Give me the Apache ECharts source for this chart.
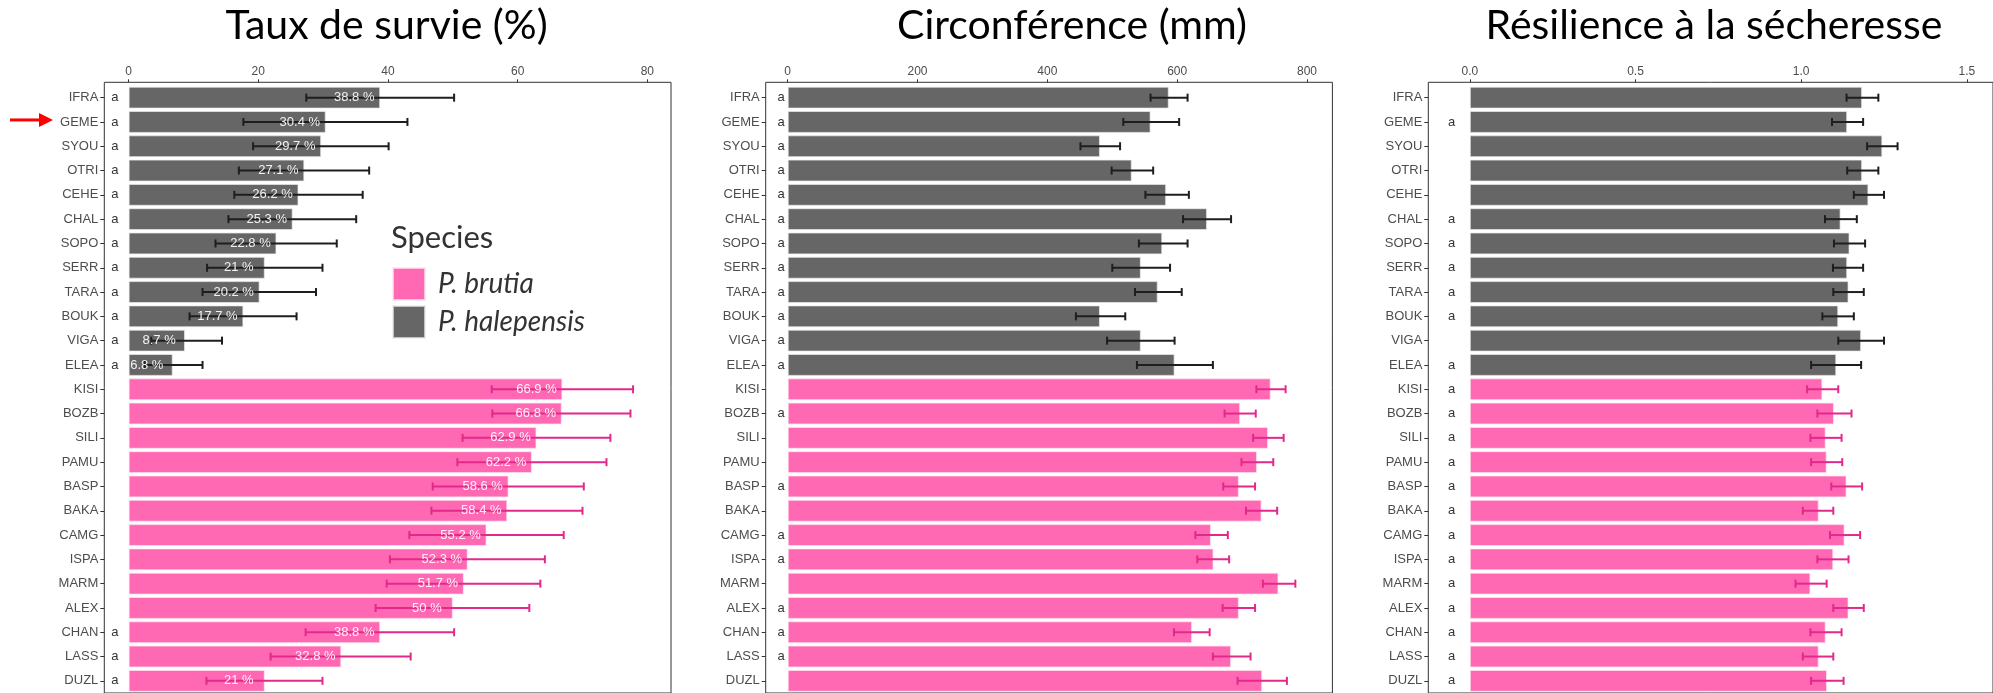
<!DOCTYPE html>
<html>
<head>
<meta charset="utf-8">
<script src="https://cdn.jsdelivr.net/npm/echarts@6/dist/echarts.min.js"></script>
<style>
html,body{margin:0;padding:0;background:#fff;}
#c{width:1993px;height:693px;}
</style>
</head>
<body>
<div id="c"></div>
<script>
// ---------- DATA ----------
const categories = ['IFRA','GEME','SYOU','OTRI','CEHE','CHAL','SOPO','SERR','TARA','BOUK','VIGA','ELEA',
  'KISI','BOZB','SILI','PAMU','BASP','BAKA','CAMG','ISPA','MARM','ALEX','CHAN','LASS','DUZL'];
const species = ['hal','hal','hal','hal','hal','hal','hal','hal','hal','hal','hal','hal',
  'bru','bru','bru','bru','bru','bru','bru','bru','bru','bru','bru','bru','bru'];

const survie     = [38.8,30.4,29.7,27.1,26.2,25.3,22.8,21,20.2,17.7,8.7,6.8, 66.9,66.8,62.9,62.2,58.6,58.4,55.2,52.3,51.7,50,38.8,32.8,21];
const survieLow  = [27.4,17.7,19.2,17.0,16.3,15.4,13.4,12.1,11.4,9.4,3.5,2.5, 56.0,56.1,51.5,50.7,46.9,46.7,43.3,40.3,39.8,38.1,27.3,21.9,12.0];
const survieHigh = [50.2,43.0,40.1,37.1,36.1,35.1,32.1,29.9,28.9,25.9,14.4,11.4, 77.8,77.4,74.3,73.7,70.2,70.0,67.1,64.2,63.5,61.8,50.2,43.5,29.9];
const survieLetters = ['a','a','a','a','a','a','a','a','a','a','a','a', '','','','','','','','','','','a','a','a'];

const circ     = [587,559,481,530,583,646,577,544,570,481,544,596, 744,697,740,723,695,730,652,656,756,695,623,683,731];
const circLow  = [559,517,451,499,551,609,541,500,535,444,492,538, 722,673,717,699,671,706,628,631,732,670,595,655,693];
const circHigh = [616,603,512,563,618,683,616,589,607,520,596,655, 767,721,764,748,720,754,678,680,782,720,650,713,769];
const circLetters = ['a','a','a','a','a','a','a','a','a','a','a','a', '','a','','','a','','a','a','','a','a','a',''];

const resil     = [1.184,1.139,1.245,1.184,1.203,1.119,1.146,1.139,1.143,1.112,1.181,1.106, 1.064,1.099,1.074,1.077,1.137,1.053,1.131,1.097,1.028,1.143,1.074,1.053,1.078];
const resilLow  = [1.137,1.093,1.199,1.139,1.159,1.072,1.099,1.096,1.097,1.064,1.112,1.030, 1.018,1.049,1.028,1.030,1.091,1.005,1.087,1.049,0.983,1.097,1.028,1.005,1.030];
const resilHigh = [1.233,1.187,1.291,1.233,1.250,1.168,1.193,1.187,1.189,1.159,1.250,1.181, 1.112,1.152,1.122,1.124,1.184,1.097,1.178,1.143,1.077,1.189,1.122,1.097,1.128];
const resilLetters = ['','a','','','','a','a','a','a','a','','a', 'a','a','a','a','a','a','a','a','a','a','a','a','a'];

const survieTicks = [0,20,40,60,80];
const circTicks = [0,200,400,600,800];
const resilTicks = [0,0.5,1.0,1.5];

const titles = ['Taux de survie (%)','Circonférence (mm)','Résilience à la sécheresse'];
const legendNames = ['P. brutia','P. halepensis'];

// ---------- STYLE / LAYOUT ----------
const PINK = '#ff69b4', GREY = '#666666';
const ERR_PINK = '#e3288b', ERR_GREY = '#1e1e1e';
const panels = [
  {vals: survie, lo: survieLow, hi: survieHigh, letters: survieLetters, ticks: survieTicks,
   left: 104.3, min: -3.75, max: 83.65, letterX: -2.11, fmt: v => String(v), labels: true, titleX: 386.5},
  {vals: circ, lo: circLow, hi: circHigh, letters: circLetters, ticks: circTicks,
   left: 765.7, min: -33.9, max: 839.1, letterX: -10.3, fmt: v => String(v), labels: false, titleX: 1072},
  {vals: resil, lo: resilLow, hi: resilHigh, letters: resilLetters, ticks: resilTicks,
   left: 1428.3, min: -0.1253, max: 1.579, letterX: -0.055, fmt: v => v.toFixed(1), labels: false, titleX: 1714}
];
const W = 566.7;
const DATA_TOP = 85.5, DATA_H = 608.7;
const BOX_TOP = 82.3, BOX_H = 614.7;
const FONT = "'Liberation Sans', Arial, sans-serif";

const grid = [], xAxis = [], yAxis = [], series = [];
panels.forEach((p, i) => {
  grid.push({left: p.left, top: DATA_TOP, width: W, height: DATA_H, show: false, containLabel: false});
  xAxis.push({
    gridIndex: i, type: 'value', position: 'top', min: p.min, max: p.max, offset: DATA_TOP - BOX_TOP,
    axisLine: {show: false, onZero: false},
    axisTick: {show: true, length: 3, lineStyle: {color: '#333', width: 1}, customValues: p.ticks},
    axisLabel: {customValues: p.ticks, formatter: p.fmt, margin: 5, fontSize: 12, color: '#4d4d4d', fontFamily: FONT},
    splitLine: {show: false}
  });
  yAxis.push({
    gridIndex: i, type: 'category', data: categories, inverse: true, position: 'left',
    axisLine: {show: false, onZero: false},
    axisTick: {show: true, length: 4, alignWithLabel: true, lineStyle: {color: '#333'}},
    axisLabel: {interval: 0, fontSize: 13, color: '#4d4d4d', margin: 6, fontFamily: FONT},
    splitLine: {show: false}
  });
});
// box frames
panels.forEach((p, i) => {
  grid.push({left: p.left, top: BOX_TOP, width: W, height: BOX_H, show: true,
    borderColor: '#333', borderWidth: 1, backgroundColor: 'transparent'});
  xAxis.push({gridIndex: 3 + i, type: 'value', show: false, min: 0, max: 1});
  yAxis.push({gridIndex: 3 + i, type: 'value', show: false, min: 0, max: 1});
});

panels.forEach((p, i) => {
  const barCommon = {type: 'bar', xAxisIndex: i, yAxisIndex: i, stack: 'p' + i, barWidth: '90%',
    animation: false, z: 2};
  series.push(Object.assign({}, barCommon, {
    name: legendNames[0], itemStyle: {color: PINK, borderColor: 'rgba(255,230,240,0.7)', borderWidth: 1},
    data: p.vals.map((v, k) => species[k] === 'bru' ? v : '-')
  }));
  series.push(Object.assign({}, barCommon, {
    name: legendNames[1], itemStyle: {color: GREY, borderColor: 'rgba(235,235,235,0.7)', borderWidth: 1},
    data: p.vals.map((v, k) => species[k] === 'hal' ? v : '-')
  }));
  // error bars
  series.push({
    type: 'custom', name: 'err', xAxisIndex: i, yAxisIndex: i, z: 4, animation: false,
    data: p.vals.map((v, k) => [p.lo[k], p.hi[k], k]), encode: {x: [0, 1], y: 2},
    renderItem: (params, api) => {
      const lo = api.value(0), hi = api.value(1), k = api.value(2);
      const a = api.coord([lo, k]), b = api.coord([hi, k]);
      const col = species[params.dataIndex] === 'bru' ? ERR_PINK : ERR_GREY;
      const st = {stroke: col, lineWidth: 2};
      const h = 4;
      return {type: 'group', children: [
        {type: 'line', shape: {x1: a[0], y1: a[1], x2: b[0], y2: b[1]}, style: st},
        {type: 'line', shape: {x1: a[0], y1: a[1] - h, x2: a[0], y2: a[1] + h}, style: st},
        {type: 'line', shape: {x1: b[0], y1: b[1] - h, x2: b[0], y2: b[1] + h}, style: st}
      ]};
    }
  });
  // value labels (panel 1), drawn above the error bars
  if (p.labels) {
    series.push({
      type: 'custom', name: 'labels', xAxisIndex: i, yAxisIndex: i, z: 6, animation: false,
      data: p.vals.map((v, k) => [v, k]), encode: {x: 0, y: 1},
      renderItem: (params, api) => {
        const v = api.value(0), k = api.value(1);
        const pt = api.coord([v - 4, k]);
        return {type: 'text', x: pt[0], y: pt[1], style: {
          text: p.fmt(p.vals[params.dataIndex]) + ' %', fill: 'rgba(255,255,255,0.92)',
          fontSize: 13, fontFamily: FONT, align: 'center', verticalAlign: 'middle',
          textAlign: 'center', textVerticalAlign: 'middle'}};
      }
    });
  }
  // group letters
  series.push({
    type: 'custom', name: 'letters', xAxisIndex: i, yAxisIndex: i, z: 4, animation: false,
    data: p.letters.map((l, k) => [p.letterX, k]), encode: {x: 0, y: 1},
    renderItem: (params, api) => {
      const txt = p.letters[params.dataIndex];
      if (!txt) return null;
      const pt = api.coord([api.value(0), api.value(1)]);
      return {type: 'text', x: pt[0], y: pt[1], style: {
        text: txt, fill: '#333', fontSize: 13, fontFamily: FONT,
        align: 'center', verticalAlign: 'middle', textAlign: 'center', textVerticalAlign: 'middle'}};
    }
  });
});

const graphic = panels.map((p, i) => ({
  type: 'text', id: 'title' + i, x: p.titleX, y: 26,
  style: {text: titles[i], fill: '#000', fontSize: 41, fontFamily: 'Lato, sans-serif',
    align: 'center', verticalAlign: 'middle', textAlign: 'center', textVerticalAlign: 'middle'}
}));
graphic.push({
  type: 'text', id: 'legTitle', x: 391, y: 238,
  style: {text: 'Species', fill: '#333', fontSize: 31, fontFamily: 'Lato, sans-serif',
    align: 'left', verticalAlign: 'middle', textAlign: 'left', textVerticalAlign: 'middle'}
});

const chart = echarts.init(document.getElementById('c'), null, {renderer: 'canvas'});
chart.setOption({
  backgroundColor: '#fff',
  animation: false,
  grid, xAxis, yAxis, series, graphic,
  legend: {
    data: legendNames, orient: 'vertical', left: 387, top: 262, padding: 5,
    itemWidth: 32, itemHeight: 32, itemGap: 4, icon: 'rect', selectedMode: false,
    textStyle: {fontFamily: 'Lato, sans-serif', fontStyle: 'italic', fontSize: 28, color: '#333',
      padding: [0, 0, 0, 8]}
  }
});

// red arrow pointing at GEME
const gy = chart.convertToPixel({yAxisIndex: 0}, 'GEME');
chart.setOption({graphic: [
  {type: 'line', id: 'arrowShaft', shape: {x1: 10, y1: gy - 2, x2: 42, y2: gy - 2},
   style: {stroke: '#ff0000', lineWidth: 3}},
  {type: 'polygon', id: 'arrowHead', shape: {points: [[39, gy - 9], [53, gy - 2], [39, gy + 5]]},
   style: {fill: '#ff0000'}}
]});
</script>
</body>
</html>
